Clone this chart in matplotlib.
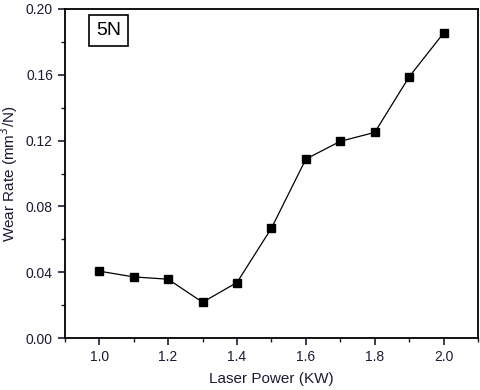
import matplotlib
matplotlib.use("Agg")
import matplotlib.pyplot as plt
from matplotlib.ticker import MultipleLocator

laser_power = [1.0, 1.1, 1.2, 1.3, 1.4, 1.5, 1.6, 1.7, 1.8, 1.9, 2.0]
wear_rate = [0.0407, 0.0372, 0.0358, 0.0218, 0.0338, 0.0668, 0.1088, 0.1196, 0.1250, 0.1588, 0.1854]
xticks = [1.0, 1.2, 1.4, 1.6, 1.8, 2.0]
yticks = [0.00, 0.04, 0.08, 0.12, 0.16, 0.20]

plt.rcParams['font.family'] = ['Liberation Sans', 'DejaVu Sans']
fig = plt.figure(figsize=(4.8, 3.9), dpi=100)
ax = fig.add_axes([0.135, 0.133, 0.861, 0.844])
ax.plot(laser_power, wear_rate, color='black', lw=0.9, marker='s', ms=6, mfc='black', mec='black')
ax.set_xlim(0.9, 2.1)
ax.set_ylim(0, 0.20)
ax.set_xticks(xticks)
ax.set_xticklabels([f"{v:.1f}" for v in xticks])
ax.set_yticks(yticks)
ax.set_yticklabels([f"{v:.2f}" for v in yticks])
ax.xaxis.set_minor_locator(MultipleLocator(0.1))
ax.yaxis.set_minor_locator(MultipleLocator(0.02))
ax.tick_params(which='both', direction='out', top=False, right=False, labelsize=10, colors='#1a1a33')
ax.tick_params(which='major', length=5, width=1.2)
ax.tick_params(which='minor', length=3, width=1)
for s in ax.spines.values():
    s.set_linewidth(1.3)
ax.set_xlabel("Laser Power (KW)", fontsize=11, color='#1a1a33', labelpad=6)
ax.set_ylabel("Wear Rate (mm$^3$/N)", fontsize=11, color='#1a1a33', labelpad=4)
ax.text(0.075, 0.935, "5N", transform=ax.transAxes, fontsize=14, va='center', ha='left',
        bbox=dict(boxstyle='square,pad=0.35', fc='white', ec='black', lw=1.2))
fig.savefig("out.png", dpi=100)
